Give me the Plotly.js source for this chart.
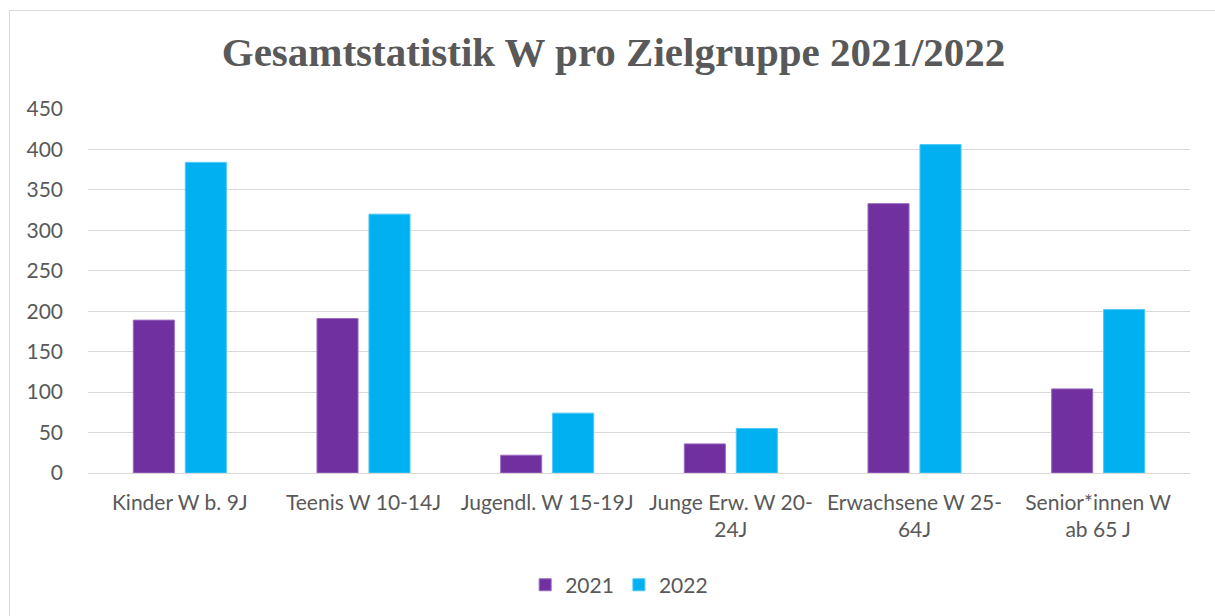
<!DOCTYPE html>
<html>
<head>
<meta charset="utf-8">
<script src="https://cdn.plot.ly/plotly-3.0.1.min.js"></script>
<style>
  html, body { margin: 0; padding: 0; background: #ffffff; }
  #frame { position: absolute; left: 9px; top: 10px; width: 1210px; height: 610px; border: 1px solid #d9d9d9; box-sizing: border-box; }
  #chart { position: absolute; left: 0; top: 0; width: 1215px; height: 616px; }
</style>
</head>
<body>
<div id="frame"></div>
<div id="chart"></div>
<script>
const categories = [
  "Kinder W b. 9J",
  "Teenis W 10-14J",
  "Jugendl. W 15-19J",
  "Junge Erw. W 20-<br>24J",
  "Erwachsene W 25-<br>64J",
  "Senior*innen W<br>ab 65 J"
];
const values2021 = [189, 191, 22, 36, 333, 104];
const values2022 = [384, 320, 74, 55, 406, 202];
const seriesNames = ["2021", "2022"];
const yTicks = [0, 50, 100, 150, 200, 250, 300, 350, 400, 450];

const textColor = "#595959";
const fontFamily = "Lato, 'Open Sans', sans-serif";

const traces = [
  { type: "bar", name: seriesNames[0], x: categories, y: values2021,
    marker: { color: "#7030A0", line: { color: "#9a6cc0", width: 1 } } },
  { type: "bar", name: seriesNames[1], x: categories, y: values2022,
    marker: { color: "#00B0F0", line: { color: "#4cc8f5", width: 1 } } }
];

const layout = {
  width: 1215, height: 616,
  paper_bgcolor: "rgba(0,0,0,0)", plot_bgcolor: "rgba(0,0,0,0)",
  margin: { l: 88, r: 25, t: 109, b: 143, autoexpand: false },
  barmode: "group", bargap: 0.434, bargroupgap: 0.21,
  title: {
    text: "<b>Gesamtstatistik W pro Zielgruppe 2021/2022</b>",
    font: { family: "'Liberation Serif', 'DejaVu Serif', serif", size: 41, color: textColor },
    x: 0.505, xanchor: "center", y: 0.916, yanchor: "middle"
  },
  font: { family: fontFamily, size: 21, color: textColor },
  xaxis: {
    type: "category", showgrid: false, zeroline: false, showline: false,
    ticks: "", tickfont: { family: fontFamily, size: 21, color: textColor },
    ticklabelstandoff: 15, automargin: false
  },
  yaxis: {
    range: [0, 450], tickvals: yTicks, ticktext: yTicks.map(String),
    showgrid: true, gridcolor: "#d9d9d9", gridwidth: 1,
    zeroline: true, zerolinecolor: "#d9d9d9", zerolinewidth: 1,
    showline: false, ticks: "", automargin: false,
    tickfont: { family: fontFamily, size: 21, color: textColor },
    ticklabelstandoff: 24
  },
  legend: {
    orientation: "h", x: 0.482, xanchor: "center", y: -0.308, yanchor: "middle",
    font: { family: fontFamily, size: 21, color: textColor },
    itemwidth: 30, traceorder: "normal"
  },
  showlegend: true
};

Plotly.newPlot("chart", traces, layout, { staticPlot: true, displayModeBar: false });
</script>
</body>
</html>
